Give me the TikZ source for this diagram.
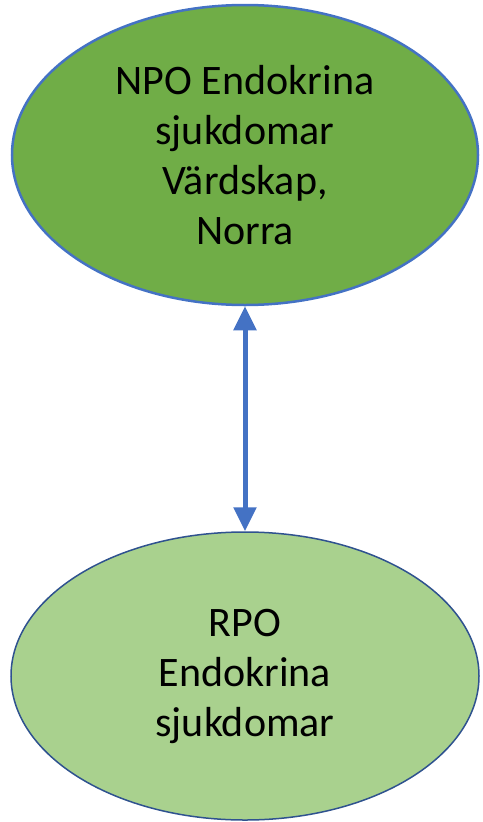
\documentclass[tikz,border=0pt]{standalone}
\usepackage{fontspec}
\setmainfont{Carlito}
\usetikzlibrary{shapes.geometric,positioning,arrows.meta}
\definecolor{topgreen}{HTML}{70AD47}
\definecolor{lightgreen}{HTML}{A9D18E}
\definecolor{accentblue}{HTML}{4472C4}
\definecolor{darkblue}{HTML}{2F528F}
\begin{document}
\begin{tikzpicture}[x=1pt, y=-1pt, node distance={225pt},
    main/.style = {draw, ellipse, inner sep=0pt, align=center, text=black,
      font=\fontsize{42}{50}\selectfont},
    link/.style = {accentblue, line width=5pt,
      {Triangle[width=22pt,length=24pt]}-{Triangle[width=22pt,length=24pt]}}]
      \useasboundingbox (0,0) rectangle (482,822);
      \node[main, fill=topgreen, draw=accentblue, line width=2.5pt,
        minimum width=466pt, minimum height=300pt] (npo) at (245,155)
        {NPO Endokrina\\sjukdomar\\Värdskap,\\Norra};
      \node[main, fill=lightgreen, draw=darkblue, line width=1.5pt,
        minimum width=468pt, minimum height=288pt] (rpo) [below=of npo]
        {RPO\\Endokrina\\sjukdomar};
      \draw[link] (npo) -- (rpo);
    \end{tikzpicture}
\end{document}
